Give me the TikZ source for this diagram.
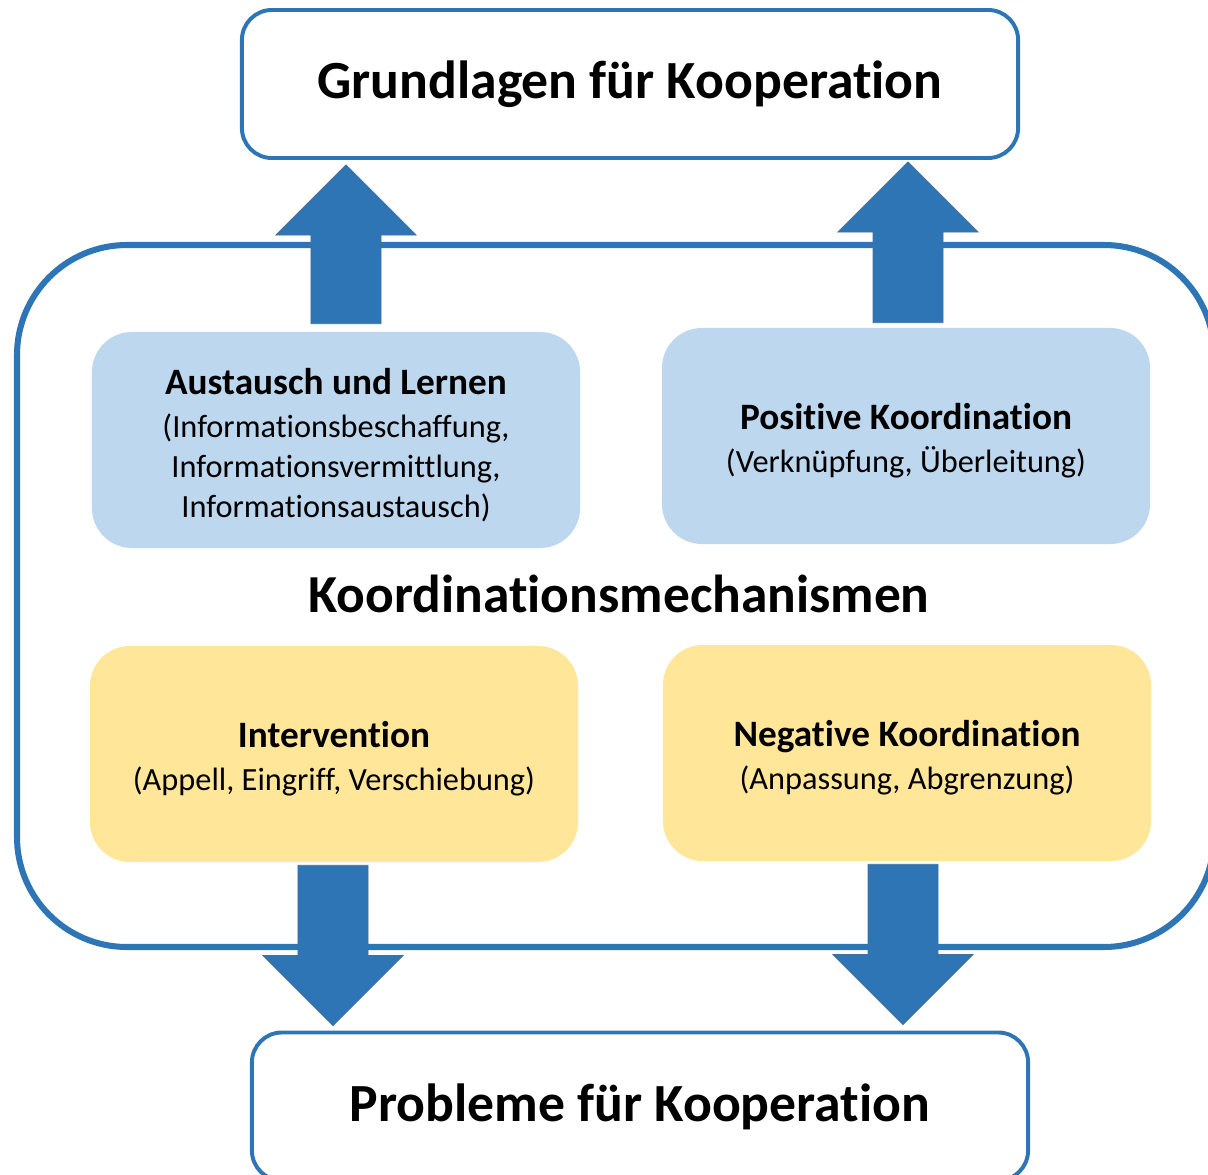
\documentclass[tikz,border=0pt]{standalone}
\usepackage{fontspec}
\setmainfont{Carlito}[Ligatures={NoCommon}]
\usetikzlibrary{calc}
\definecolor{rimblue}{HTML}{2E75B6}
\definecolor{arrowrim}{HTML}{41719C}
\definecolor{boxblue}{HTML}{BDD7EE}
\definecolor{boxyellow}{HTML}{FFE699}
\tikzset{
  endbox/.style={draw=rimblue, line width=2.8pt, fill=white, rounded corners=0.75cm,
    minimum width=19.4cm, minimum height=3.7cm, font=\fontsize{38.2}{44}\selectfont\bfseries},
  mechbox/.style={rounded corners=1cm, minimum width=12.2cm, minimum height=5.4cm},
  mechtext/.style={align=center, font=\fontsize{23}{28.5}\selectfont, yshift=-0.125cm},
  blockarrow/.style={fill=rimblue, draw=arrowrim, line width=0.6pt},
}
\newcommand{\headline}[1]{{\fontsize{26.5}{30}\selectfont\bfseries #1}\\[2pt]}
% block arrow from tail #1 to tip #2 (same x)
\newcommand{\bigarrow}[2]{%
  \coordinate (hb) at ($(#2)!1.75cm!(#1)$);
  \filldraw[blockarrow] ($(#1)+(-0.875cm,0)$) -- ($(hb)+(-0.875cm,0)$) -- ($(hb)+(-1.75cm,0)$)
    -- (#2) -- ($(hb)+(1.75cm,0)$) -- ($(hb)+(0.875cm,0)$) -- ($(#1)+(0.875cm,0)$) -- cycle;
}
\begin{document}
\begin{tikzpicture}[x=0.025cm, y=-0.025cm]
	\useasboundingbox (0,0) rectangle (1208,1175);
	% frame of the mechanisms
	\draw[rimblue, line width=4.3pt, rounded corners=2.75cm] (17,245) rectangle (1214,947);
	\node[endbox] (grund) at (630,84) {Grundlagen für Kooperation};
	\node[endbox] (prob) at (640,1106.5) {Probleme für Kooperation};
	% the four mechanisms
	\node[mechbox, fill=boxblue] (aus) at (336,440) {};
	\node[mechbox, fill=boxblue] (pos) at (906,436) {};
	\node[mechbox, fill=boxyellow] (int) at (334,754) {};
	\node[mechbox, fill=boxyellow] (neg) at (907,753) {};
	\node[mechtext] (aus-txt) at (aus) {\headline{Austausch und Lernen}(Informationsbeschaffung,\\Informationsvermittlung,\\Informationsaustausch)};
	\node[mechtext] (pos-txt) at (pos) {\headline{Positive Koordination}(Verknüpfung, Überleitung)};
	\node[mechtext] (int-txt) at (int) {\headline{Intervention}(Appell, Eingriff, Verschiebung)};
	\node[mechtext] (neg-txt) at (neg) {\headline{Negative Koordination}(Anpassung, Abgrenzung)};
	\node[font=\fontsize{38}{44}\selectfont\bfseries] (mech) at (619,594) {Koordinationsmechanismen};
	% arrows
	\coordinate (u1t) at ($(aus.north)+(10,-8)$);
	\coordinate (u1h) at ($(u1t |- grund.south)+(0,5)$);
	\coordinate (u2t) at ($(pos.north)+(2,-5)$);
	\coordinate (u2h) at ($(u2t |- grund.south)+(0,2)$);
	\coordinate (d1t) at ($(int.south)+(-1,3)$);
	\coordinate (d1h) at ($(d1t |- prob.north)+(0,-5)$);
	\coordinate (d2t) at ($(neg.south)+(-4,3)$);
	\coordinate (d2h) at ($(d2t |- prob.north)+(0,-6)$);
	\bigarrow{u1t}{u1h}
	\bigarrow{u2t}{u2h}
	\bigarrow{d1t}{d1h}
	\bigarrow{d2t}{d2h}
\end{tikzpicture}
\end{document}
